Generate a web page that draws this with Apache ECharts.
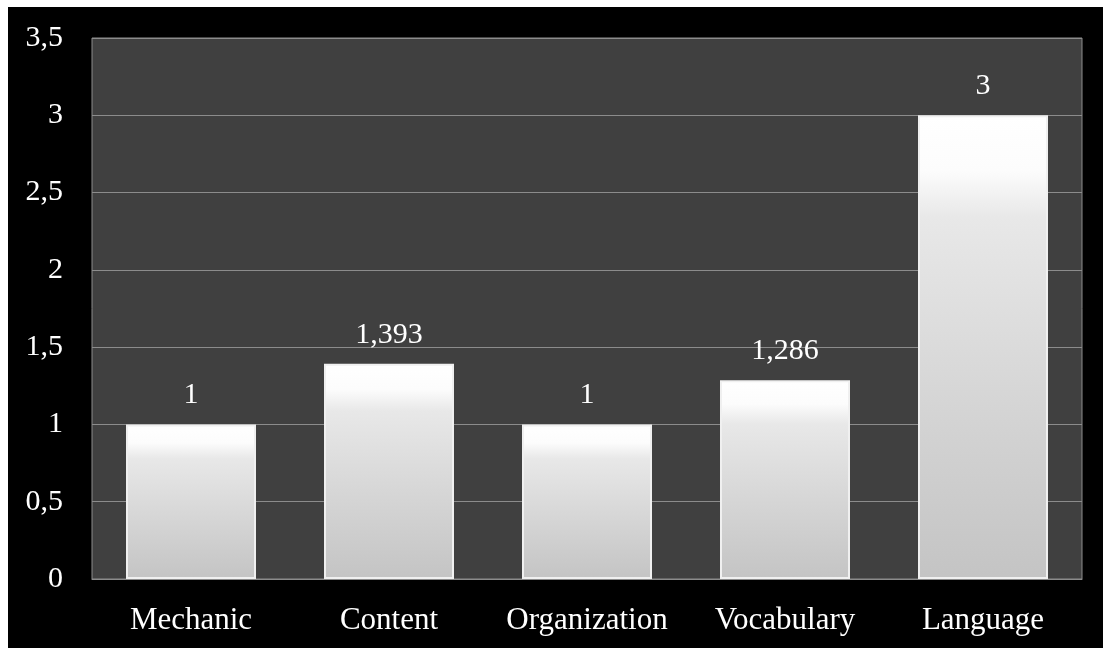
<!DOCTYPE html>
<html>
<head>
<meta charset="utf-8">
<script src="https://cdn.jsdelivr.net/npm/echarts@6/dist/echarts.min.js"></script>
<style>
  html, body { margin: 0; padding: 0; background: #fff; }
  #chart { position: absolute; left: 8px; top: 7px; width: 1095px; height: 641px; }
</style>
</head>
<body>
<div id="chart"></div>
<script>
// 类目和数值
const categories = ['Mechanic', 'Content', 'Organization', 'Vocabulary', 'Language']
const values = [1, 1.393, 1, 1.286, 3]

// 小数点用逗号显示
const fmt = v => String(v).replace('.', ',')

const chart = echarts.init(document.getElementById('chart'))
const font = '"Liberation Serif", "Times New Roman", serif'

const option = {
  backgroundColor: '#000',
  animation: false,
  grid: {
    left: 84, right: 21, top: 31, bottom: 69,
    show: true,
    backgroundColor: '#404040',
    borderColor: '#8c8c8c',
    borderWidth: 1
  },
  xAxis: {
    type: 'category',
    data: categories,
    axisLine: { lineStyle: { color: '#8c8c8c' } },
    axisTick: { show: false },
    axisLabel: { color: '#fff', fontFamily: font, fontSize: 31, margin: 26, interval: 0 }
  },
  yAxis: {
    type: 'value',
    min: 0, max: 3.5, interval: 0.5,
    axisLine: { show: false },
    axisTick: { show: false },
    splitLine: { lineStyle: { color: '#8c8c8c', width: 1 } },
    axisLabel: { color: '#fff', fontFamily: font, fontSize: 30, margin: 29, formatter: fmt }
  },
  series: [{
    type: 'bar',
    data: values,
    barWidth: 130,
    itemStyle: {
      color: new echarts.graphic.LinearGradient(0, 0, 0, 1, [
        { offset: 0, color: '#ffffff' },
        { offset: 0.12, color: '#fcfcfc' },
        { offset: 0.22, color: '#e8e8e8' },
        { offset: 0.6, color: '#d6d6d6' },
        { offset: 1, color: '#c4c4c4' }
      ]),
      borderColor: '#f0f0f0',
      borderWidth: 2
    },
    label: {
      show: true,
      position: 'top',
      distance: 14,
      color: '#fff',
      fontFamily: font,
      fontSize: 30,
      formatter: p => fmt(p.value)
    }
  }]
}
chart.setOption(option)
</script>
</body>
</html>
